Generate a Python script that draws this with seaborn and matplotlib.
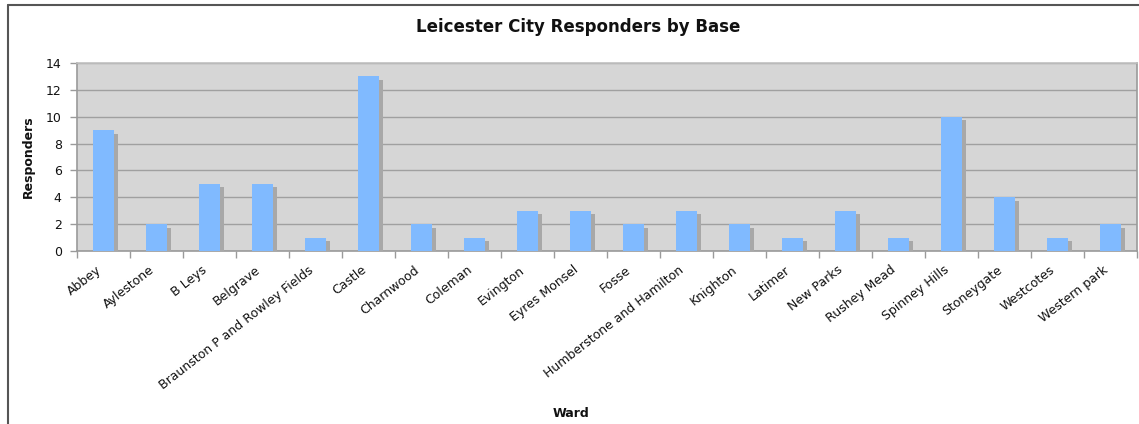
import matplotlib
matplotlib.use("Agg")
import matplotlib.pyplot as plt
import matplotlib.patheffects as pe
import matplotlib.transforms as mtrans
from matplotlib.lines import Line2D
import seaborn as sns
import pandas as pd
import numpy as np

wards = ["Abbey", "Aylestone", "B Leys", "Belgrave", "Braunston P and Rowley Fields",
         "Castle", "Charnwood", "Coleman", "Evington", "Eyres Monsel", "Fosse",
         "Humberstone and Hamilton", "Knighton", "Latimer", "New Parks", "Rushey Mead",
         "Spinney Hills", "Stoneygate", "Westcotes", "Western park"]
responders = [9, 2, 5, 5, 1, 13, 2, 1, 3, 3, 2, 3, 2, 1, 3, 1, 10, 4, 1, 2]
yticks = [0, 2, 4, 6, 8, 10, 12, 14]

df = pd.DataFrame({"Ward": wards, "Responders": responders})

sns.set_theme(style="white")
plt.rcParams['font.family'] = ['DejaVu Sans']

fig = plt.figure(figsize=(11.39, 4.24), dpi=100)
ax = fig.add_axes([77/1139, 1-251/424, (1137-77)/1139, (251-63)/424])

sns.barplot(data=df, x="Ward", y="Responders", color="#80BAFF", width=0.4,
            saturation=1, ax=ax, zorder=3)
for p in ax.patches:
    p.set_path_effects([pe.SimplePatchShadow(offset=(2.5, -2.5), shadow_rgbFace="#A8A8A8", alpha=1.0),
                        pe.Normal()])
    p.set_edgecolor("none")

ax.set_facecolor("#D6D6D6")
ax.set_ylim(0, 14)
ax.set_xlim(-0.5, len(wards) - 0.5)
ax.set_yticks(yticks)
ax.yaxis.grid(True, color="#A0A0A0", linewidth=1, zorder=0)
ax.set_axisbelow(True)

for s in ["left", "bottom", "right", "top"]:
    ax.spines[s].set_visible(True)
    ax.spines[s].set_color("#9A9A9A")
    ax.spines[s].set_linewidth(1.2)
ax.spines["top"].set_color("#C0C0C0")

ax.set_xticks(range(len(wards)))
ax.set_xticks(np.arange(-0.5, len(wards)), minor=True)
ax.tick_params(axis="x", which="major", length=0, pad=9)
ax.tick_params(axis="x", which="minor", length=5, color="#9A9A9A", width=1, bottom=True)
ax.tick_params(axis="y", length=5, color="#9A9A9A", width=1, left=True, labelsize=9, labelcolor="#111111", pad=6)
ax.set_xticklabels(wards, rotation=38, ha="right", rotation_mode="anchor", fontsize=9, color="#111111")
shift = mtrans.ScaledTranslation(-8/100, 0, fig.dpi_scale_trans)
for lbl in ax.get_xticklabels():
    lbl.set_transform(lbl.get_transform() + shift)

ax.set_ylabel("Responders", fontsize=9, fontweight="bold", color="#111111")
ax.yaxis.set_label_coords(-(77-35)/(1137-77), 0.5)
ax.set_xlabel("Ward", fontsize=9, fontweight="bold", color="#111111")
ax.xaxis.set_label_coords((571-77)/(1137-77), -(407-251)/(251-63))

fig.text(578/1139, 1-27/424, "Leicester City Responders by Base", ha="center", va="center",
         fontsize=12, fontweight="bold", color="#111111")

# outer chart border (left and top visible)
fig.add_artist(Line2D([7.5/1139, 7.5/1139], [0, 1-5/424], color="#555555", linewidth=1.5, transform=fig.transFigure))
fig.add_artist(Line2D([7.5/1139, 1], [1-5/424, 1-5/424], color="#555555", linewidth=1.5, transform=fig.transFigure))

fig.savefig("out.png", dpi=100, facecolor="white")
